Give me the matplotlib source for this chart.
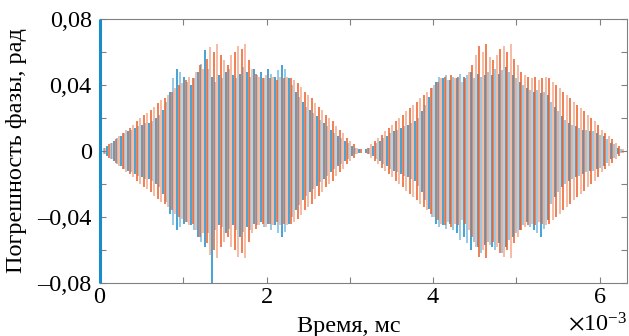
import numpy as np
import matplotlib
matplotlib.use("Agg")
import matplotlib.pyplot as plt
from matplotlib.ticker import FixedLocator, FixedFormatter, ScalarFormatter

# phase error, mrad, one value per spike
orange_amp = [0, 2, 4, 5, 7, 9, 11, 13, 14, 16, 18, 20, 22, 23, 25, 27, 29, 31, 32, 34,
              36, 38, 40, 41, 43, 45, 44, 48, 52, 50, 56, 63, 60, 65, 58, 55, 52, 58, 60, 64,
              62, 65, 55, 50, 47, 45, 44, 46, 44, 45, 43, 45, 44, 45, 44, 43, 41, 39, 36, 34,
              32, 29, 27, 25, 22, 20, 18, 15, 13, 11, 8, 6, 4, 2, 1, 0, 2, 4, 6, 8,
              10, 12, 14, 16, 18, 20, 22, 24, 26, 28, 30, 32, 34, 36, 38, 40, 42, 44, 45, 43,
              46, 44, 45, 42, 44, 48, 52, 58, 64, 60, 65, 57, 55, 58, 62, 64, 60, 65, 56, 52,
              48, 46, 45, 44, 45, 43, 44, 45, 44, 42, 40, 38, 36, 34, 32, 30, 28, 26, 24, 22,
              20, 18, 16, 13, 11, 9, 7, 5, 3, 1]
blue_top = [80, 2, 3, 5, 6, 8, 9, 11, 12, 13, 14, 15, 16, 17, 17, 18, 20, 22, 25, 30,
            36, 44, 50, 48, 45, 42, 40, 44, 48, 53, 61, 50, 45, 42, 46, 44, 48, 50, 46, 44,
            47, 51, 48, 45, 50, 46, 48, 44, 50, 47, 45, 49, 52, 50, 44, 40, 36, 33, 30, 27,
            25, 23, 21, 19, 17, 15, 13, 11, 9, 8, 6, 5, 3, 2, 1, 0, 1, 2, 3, 5,
            6, 8, 9, 11, 12, 13, 14, 15, 16, 17, 18, 20, 24, 28, 33, 38, 42, 45, 44, 46,
            43, 45, 44, 47, 45, 46, 48, 44, 47, 45, 46, 48, 46, 50, 47, 49, 51, 48, 46, 44,
            42, 40, 38, 37, 36, 37, 35, 36, 34, 30, 27, 24, 21, 19, 17, 16, 15, 14, 13, 13,
            12, 12, 11, 10, 9, 7, 5, 4, 2, 1]
blue_bot = [80, 2, 3, 5, 6, 8, 9, 11, 12, 13, 14, 15, 16, 17, 17, 18, 20, 22, 26, 31,
            38, 45, 48, 46, 44, 43, 45, 48, 52, 55, 58, 50, 80, 48, 45, 46, 50, 47, 45, 48,
            52, 49, 46, 48, 44, 45, 43, 46, 44, 48, 45, 50, 52, 49, 44, 40, 36, 33, 30, 27,
            25, 23, 21, 19, 17, 15, 13, 11, 9, 8, 6, 5, 3, 2, 1, 0, 1, 2, 3, 5,
            6, 8, 9, 11, 12, 13, 14, 15, 16, 17, 18, 21, 25, 30, 35, 40, 44, 46, 45, 47,
            44, 48, 50, 54, 52, 56, 60, 55, 58, 62, 57, 55, 58, 60, 56, 62, 58, 54, 52, 50,
            48, 45, 43, 46, 48, 50, 52, 47, 42, 32, 28, 25, 22, 20, 18, 17, 16, 15, 14, 13,
            12, 12, 11, 10, 9, 7, 5, 4, 2, 1]

t_end = 6.3e-3
y_ticks = [-0.08, -0.04, 0, 0.04, 0.08]
y_labels = ["\u20130,08", "\u20130,04", "0", "0,04", "0,08"]
x_ticks = [0, 2e-3, 4e-3, 6e-3]

plt.rcParams["font.family"] = ["Liberation Serif", "DejaVu Serif"]
plt.rcParams["mathtext.fontset"] = "stix"

n = len(orange_amp)
dt = t_end / n
t_blue = np.arange(n) * dt
t_orange = t_blue + dt / 2
o = np.array(orange_amp) * 1e-3
bt = np.array(blue_top) * 1e-3
bb = -np.array(blue_bot) * 1e-3

fig = plt.figure(figsize=(6.29, 3.36), dpi=100)
ax = fig.add_axes([0.159, 0.158, 0.838, 0.785])

bcol = [(0.10, 0.55, 0.79, 0.95 if k % 2 == 0 else 0.55) for k in range(n)]
ocol = [(0.93, 0.38, 0.17, 0.95 if k % 2 == 0 else 0.5) for k in range(n)]
ax.vlines(t_blue, bb, bt, colors=bcol, lw=1.2, zorder=3)
ax.vlines(t_orange, -o, o, colors=ocol, lw=1.2, zorder=4)
# first blue sample sits on the left spine
ax.vlines(t_blue[:1], bb[:1], bt[:1], colors=[(0.10, 0.55, 0.79)], lw=2.2,
          zorder=6, clip_on=False)

ax.set_xlim(0, 6.33e-3)
ax.set_ylim(-0.08, 0.08)
ax.yaxis.set_major_locator(FixedLocator(y_ticks))
ax.yaxis.set_major_formatter(FixedFormatter(y_labels))
ax.set_yticks([-0.06, -0.02, 0.02, 0.06], minor=True)
ax.set_xticks(x_ticks)
ax.set_xticks([1e-3, 3e-3, 5e-3], minor=True)
fmt = ScalarFormatter(useMathText=True)
fmt.set_powerlimits((-3, -3))
ax.xaxis.set_major_formatter(fmt)

fs = 17.5
ax.tick_params(which="both", direction="in", top=True, right=True,
               length=4, width=0.8, color="#808080", labelsize=fs)
ax.tick_params(axis="y", pad=6)
ax.tick_params(axis="x", pad=3)
ax.xaxis.get_offset_text().set_fontsize(fs)
for s in ax.spines.values():
    s.set_color("#808080")
    s.set_linewidth(0.8)

ax.set_ylabel("Погрешность фазы, рад", fontsize=fs)
ax.yaxis.set_label_coords(-0.138, 0.5)
ax.set_xlabel("Время, мс", fontsize=fs)
ax.xaxis.set_label_coords(0.472, -0.125)

fig.savefig("out.png", dpi=100)
